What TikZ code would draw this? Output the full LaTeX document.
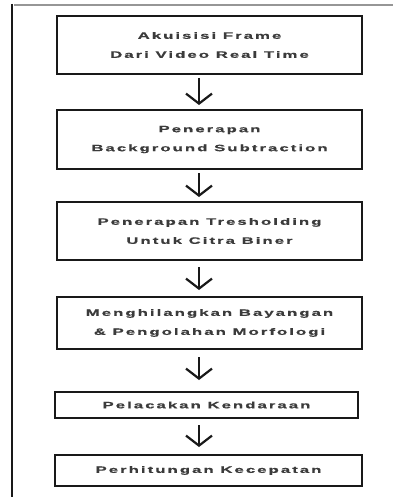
\documentclass[tikz,border=0pt]{standalone}
\usepackage{fontspec}
\usepackage{xcolor}
\usetikzlibrary{arrows.meta,positioning}
\newfontfamily\boxfont[FakeStretch=1.8,LetterSpace=22,FakeBold=0.6]{Liberation Sans Bold}
\definecolor{inkBlack}{RGB}{25,25,25}
\definecolor{rulerGray}{RGB}{150,150,150}
\begin{document}
\begin{tikzpicture}[x=1pt,y=-1pt,
  stepbox/.style={draw=inkBlack,line width=2pt,minimum width=305pt,inner sep=0pt,align=center,text=inkBlack!85,font=\boxfont\fontsize{9.3}{19}\selectfont},
  flowarrow/.style={draw=inkBlack,line width=2.2pt,-{Straight Barb[length=10pt,width=26pt,line width=2.2pt]}}]
\useasboundingbox[fill=white] (0,0) rectangle (393,497);
\draw[rulerGray,line width=1.5pt] (14,5) -- (393,5);
\draw[inkBlack,line width=2.5pt] (12,4) -- (12,497);
\node[stepbox,minimum height=58pt] (akuisisi) at (209.5,45) {Akuisisi Frame\\Dari Video Real Time};
\node[stepbox,minimum height=59pt,below=34pt of akuisisi] (bgsub) {Penerapan\\Background Subtraction};
\node[stepbox,minimum height=58pt,below=31pt of bgsub] (treshold) {Penerapan Tresholding\\Untuk Citra Biner};
\node[stepbox,minimum height=52pt,below=35pt of treshold] (morfologi) {Menghilangkan Bayangan\\\& Pengolahan Morfologi};
\node[stepbox,minimum height=26pt,minimum width=303pt,below=41pt of morfologi,xshift=-3pt] (pelacakan) {Pelacakan Kendaraan};
\node[stepbox,minimum height=31pt,minimum width=307pt,below=35pt of pelacakan,xshift=2pt] (kecepatan) {Perhitungan Kecepatan};
\coordinate (axis) at (199,0);
\draw[flowarrow,shorten <=3pt,shorten >=4pt] (axis |- akuisisi.south) -- (axis |- bgsub.north);
\draw[flowarrow,shorten <=3pt,shorten >=4pt] (axis |- bgsub.south) -- (axis |- treshold.north);
\draw[flowarrow,shorten <=6pt,shorten >=6pt] (axis |- treshold.south) -- (axis |- morfologi.north);
\draw[flowarrow,shorten <=7pt,shorten >=11pt] (axis |- morfologi.south) -- (axis |- pelacakan.north);
\draw[flowarrow,shorten <=6pt,shorten >=7pt] (axis |- pelacakan.south) -- (axis |- kecepatan.north);
\end{tikzpicture}
\end{document}
